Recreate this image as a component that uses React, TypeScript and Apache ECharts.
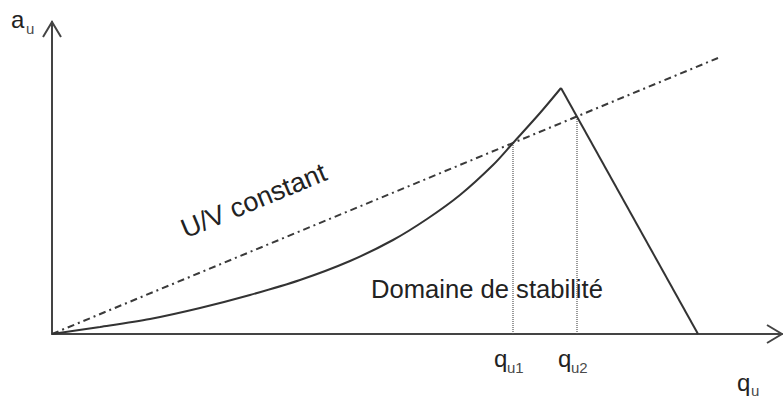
import React, { useEffect, useRef } from "react";
import * as echarts from "echarts";

// Schematic values (arbitrary units)
const curveQ = [0, 48, 98, 148, 198, 248, 298, 341, 375, 408, 441, 461, 488, 509];
const curveA = [0, 7, 15, 26, 39, 54, 73, 94, 115, 139, 169, 191, 221, 246];
const dropQ = [509, 646];
const dropA = [246, 0];
const uvQ = [0, 666];
const uvA = [0, 276];
const qu1Q = [461, 461];
const qu1A = [0, 191];
const qu2Q = [525, 525];
const qu2A = [0, 218];
const axisMaxQ = 730;
const axisMaxA = 312;

const FONT = "'Liberation Sans', Arial, sans-serif";

const zip = (xs: number[], ys: number[]) => xs.map((x, i) => [x, ys[i]]);

export default function App() {
  const ref = useRef<HTMLDivElement>(null);
  useEffect(() => {
    const chart = echarts.init(ref.current!, null, { renderer: "svg" });
    const axisColor = "#444";
    const lineColor = "#333";
    const hidden = {
      axisTick: { show: false },
      axisLabel: { show: false },
      splitLine: { show: false },
    };
    chart.setOption({
      animation: false,
      backgroundColor: "#fff",
      grid: { left: 52, right: 1, top: 22, bottom: 64 },
      xAxis: {
        type: "value",
        min: 0,
        max: axisMaxQ,
        axisLine: { show: true, onZero: true, lineStyle: { color: axisColor, width: 2 } },
        ...hidden,
      },
      yAxis: {
        type: "value",
        min: 0,
        max: axisMaxA,
        axisLine: { show: true, onZero: true, lineStyle: { color: axisColor, width: 2 } },
        ...hidden,
      },
      series: [
        {
          type: "line",
          data: zip(uvQ, uvA),
          symbol: "none",
          lineStyle: { color: "#3a3a3a", width: 2, type: [7, 4, 2, 4] },
        },
        {
          type: "line",
          data: zip(qu1Q, qu1A),
          symbol: "none",
          lineStyle: { color: "#555", width: 1.2, type: [1, 1] },
        },
        {
          type: "line",
          data: zip(qu2Q, qu2A),
          symbol: "none",
          lineStyle: { color: "#555", width: 1.2, type: [1, 1] },
        },
        {
          type: "line",
          data: zip(curveQ, curveA),
          symbol: "none",
          smooth: 0.3,
          lineStyle: { color: lineColor, width: 2 },
        },
        {
          type: "line",
          data: zip(dropQ, dropA),
          symbol: "none",
          lineStyle: { color: lineColor, width: 2 },
        },
      ],
    });

    const px = (x: number, y: number) =>
      chart.convertToPixel({ gridIndex: 0 }, [x, y]) as number[];

    const txt = (
      x: number,
      baseline: number,
      text: string,
      fs: number,
      color: string,
      rot = 0
    ) => {
      const off = 0.35 * fs;
      return {
        type: "text",
        x: x - Math.sin(rot) * off,
        y: baseline - Math.cos(rot) * off,
        rotation: rot,
        silent: true,
        style: {
          text,
          fill: color,
          fontSize: fs,
          fontFamily: FONT,
          align: "left",
          verticalAlign: "middle",
        },
      };
    };

    const yTip = px(0, axisMaxA);
    const xTip = px(axisMaxQ, 0);
    const q1 = px(qu1Q[0], 0);
    const q2 = px(qu2Q[0], 0);
    const mainFs = 24;
    const subFs = 15;
    const textColor = "#222";
    const subColor = "#4a4a4a";
    const rot = (22.5 * Math.PI) / 180;

    chart.setOption({
      graphic: [
        {
          type: "polyline",
          silent: true,
          shape: {
            points: [
              [yTip[0] - 9, yTip[1] + 15],
              [yTip[0], yTip[1]],
              [yTip[0] + 9, yTip[1] + 15],
            ],
          },
          style: { stroke: axisColor, lineWidth: 2, fill: null },
        },
        {
          type: "polyline",
          silent: true,
          shape: {
            points: [
              [xTip[0] - 15, xTip[1] - 9],
              [xTip[0], xTip[1]],
              [xTip[0] - 15, xTip[1] + 9],
            ],
          },
          style: { stroke: axisColor, lineWidth: 2, fill: null },
        },
        txt(11, 28, "a", mainFs, textColor),
        txt(26, 34, "u", subFs, subColor),
        txt(q1[0] - 19, 367, "q", mainFs, textColor),
        txt(q1[0] - 6, 373, "u1", subFs, subColor),
        txt(q2[0] - 19, 367, "q", mainFs, textColor),
        txt(q2[0] - 6, 373, "u2", subFs, subColor),
        txt(737, 391, "q", mainFs, textColor),
        txt(751, 396, "u", subFs, subColor),
        txt(371, 298, "Domaine de stabilité", 25.6, textColor),
        txt(186, 239, "U/V constant", 27, textColor, rot),
      ],
    });

    return () => chart.dispose();
  }, []);
  return (
    <div
      ref={ref}
      style={{ position: "fixed", left: 0, top: 0, width: 783, height: 398, background: "#fff" }}
    />
  );
}
